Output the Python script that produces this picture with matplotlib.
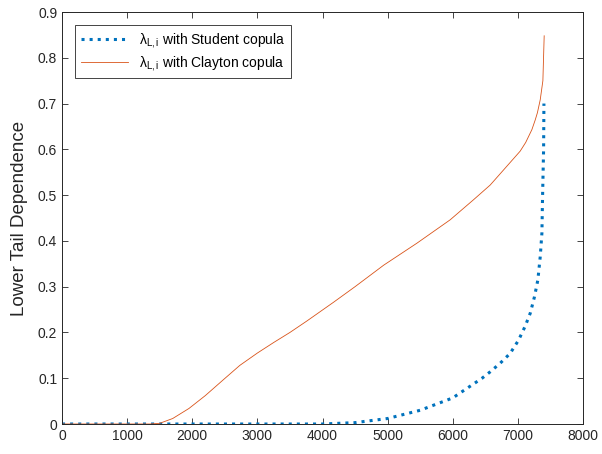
import matplotlib
matplotlib.use("Agg")
import matplotlib.pyplot as plt
import numpy as np

plt.rcParams['font.family'] = ['Liberation Sans', 'DejaVu Sans']
plt.rcParams['mathtext.fontset'] = 'custom'
plt.rcParams['mathtext.rm'] = 'Liberation Sans'
plt.rcParams['mathtext.it'] = 'Liberation Sans:italic'

# Data
clayton_x = [0, 1350, 1500, 1700, 1950, 2200, 2480, 2730, 3000, 3250, 3500, 3760,
             4010, 4170, 4500, 4940, 5450, 5960, 6320, 6575, 6830, 7035, 7120,
             7215, 7266, 7300, 7343, 7384, 7404]
clayton_y = [0, 0, 0.0015, 0.012, 0.034, 0.062, 0.097, 0.128, 0.155, 0.178, 0.2, 0.225,
             0.25, 0.266, 0.3, 0.347, 0.395, 0.446, 0.49, 0.522, 0.563, 0.596, 0.615,
             0.643, 0.664, 0.68, 0.708, 0.75, 0.848]

student_x = [0, 4000, 4500, 5000, 5500, 6000, 6450, 6575, 6730, 6880, 7010, 7110,
             7190, 7255, 7307, 7343, 7369, 7378, 7395, 7400]
student_y = [0, 0, 0.003, 0.012, 0.03, 0.057, 0.1, 0.114, 0.133, 0.154, 0.183, 0.213,
             0.242, 0.278, 0.315, 0.365, 0.417, 0.489, 0.6, 0.7]

xticks = [0, 1000, 2000, 3000, 4000, 5000, 6000, 7000, 8000]
yticks = [0, 0.1, 0.2, 0.3, 0.4, 0.5, 0.6, 0.7, 0.8, 0.9]

axcol = '#262626'
fig = plt.figure(figsize=(6.02, 4.54), dpi=100)
ax = fig.add_axes([62/602, 1-424/454, (583-62)/602, (424-12)/454])

ax.plot(student_x, student_y, color='#0072BD', linestyle=':', linewidth=2.2,
        label=r'λ$_{\mathrm{L,i}}$ with Student copula')
ax.plot(clayton_x, clayton_y, color='#D95319', linestyle='-', linewidth=0.6,
        label=r'λ$_{\mathrm{L,i}}$ with Clayton copula')

ax.set_xlim(0, 8000)
ax.set_ylim(0, 0.9)
ax.set_xticks(xticks)
ax.set_yticks(yticks)
ax.set_xticklabels([str(t) for t in xticks])
ax.set_yticklabels(['0'] + [f'{t:.1f}' for t in yticks[1:]])
ax.tick_params(direction='in', length=4, width=0.6, colors=axcol, labelsize=10,
               top=True, right=True, labelcolor=axcol)
for s in ax.spines.values():
    s.set_color(axcol)
    s.set_linewidth(0.7)
ax.set_ylabel('Lower Tail Dependence', fontsize=13.5, color=axcol, labelpad=7)

leg = ax.legend(loc='upper left', fontsize=10, handlelength=3.4, fancybox=False,
                framealpha=1, edgecolor=axcol, borderpad=0.4, labelspacing=0.3,
                bbox_to_anchor=(0.012, 0.985))
leg.get_frame().set_linewidth(0.6)

fig.savefig('out.png', dpi=100)
